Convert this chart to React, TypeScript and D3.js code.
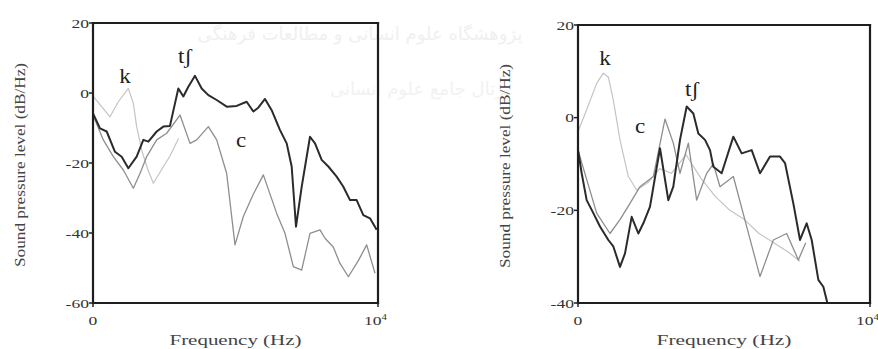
import React from "react";
import * as d3 from "d3";

// ---------- data (frequency in Hz, level in dB/Hz) ----------
const leftTshFreq = [0, 246, 480, 772, 1006, 1240, 1532, 1766, 1942, 2234, 2468, 2700, 2994, 3170, 3345, 3579, 3813, 4047, 4340, 4691, 5041, 5392, 5626, 5800, 6035, 6269, 6562, 6796, 6971, 7123, 7322, 7614, 7790, 8024, 8257, 8550, 8784, 9018, 9250, 9485, 9719, 9953];
const leftTshDb = [-5.8, -10.1, -11, -16.8, -18.2, -21.5, -18.2, -13.4, -13.9, -11, -9.6, -9.4, 1.3, -1, 1.8, 4.9, 1.3, -0.6, -2, -3.9, -3.7, -2.5, -5.3, -4.2, -1.7, -4.9, -10.6, -14.4, -21, -38.2, -26.8, -12.5, -14.4, -19.1, -21, -23.9, -26.8, -30.6, -30.6, -34.9, -35.8, -39.1];

const leftCFreq = [0, 362, 713, 1064, 1415, 1649, 1883, 2234, 2585, 3053, 3404, 3637, 4047, 4340, 4691, 4982, 5275, 5620, 5977, 6445, 6737, 7029, 7322, 7614, 7965, 8140, 8430, 8667, 8960, 9310, 9603, 9895];
const leftCDb = [-6.3, -13.4, -18.2, -22, -27.2, -23, -18.2, -13.4, -11.5, -6.3, -14.4, -13.4, -9.6, -13.4, -23, -43.4, -35.3, -29, -23.4, -34.4, -40.1, -49.6, -50.6, -40.1, -39.1, -41.5, -44, -48.7, -52.5, -47.9, -43.4, -51.5];

const leftKFreq = [0, 304, 596, 889, 1240, 1415, 1532, 1708, 1930, 2117, 2400, 2700, 3000];
const leftKDb = [-0.9, -3.9, -6.8, -2.5, 1.3, -2.9, -9.6, -16.3, -22, -25.8, -22, -18, -13];

const rightTshFreq = [10, 126, 297, 525, 753, 1039, 1210, 1438, 1610, 1838, 2066, 2237, 2466, 2808, 3093, 3264, 3493, 3722, 3950, 4121, 4350, 4521, 4635, 4920, 5320, 5605, 5948, 6233, 6576, 6918, 7090, 7374, 7603, 7831, 8003, 8231, 8402, 8540];
const rightTshDb = [-7.3, -12, -17.8, -20.6, -23.5, -26.4, -27.8, -32.2, -29.3, -21.4, -25, -22.8, -19.2, -6.6, -17.8, -14.9, -4.8, 2.4, 0.9, -3.4, -4.8, -7, -10.6, -12, -4.1, -7.7, -7, -12, -8.4, -8.4, -9.8, -18.5, -26.4, -22.8, -26.4, -35, -36.5, -40];

const rightCFreq = [0, 639, 1096, 1438, 1781, 2123, 2580, 2979, 3264, 3493, 3779, 4064, 4407, 4635, 4863, 5320, 5777, 6233, 6690, 7146, 7546, 7800];
const rightCDb = [-7, -20.6, -25, -22, -18.5, -14.9, -12.7, -0.3, -5.5, -12, -5.5, -17.8, -12, -10, -14.9, -12.7, -23.5, -34.3, -26.4, -25, -30.7, -27];

const rightKFreq = [0, 297, 639, 867, 1039, 1210, 1438, 1724, 2009, 2400, 2800, 3200, 3700, 4200, 4700, 5200, 5700, 6200, 6700, 7200, 7600];
const rightKDb = [-3, 1.7, 7.4, 9.6, 8.8, 3.8, -4.8, -12.7, -15.6, -14, -11, -12, -8, -13, -17, -20, -22, -25, -27, -29, -31];

const leftYTicks = [20, 0, -20, -40, -60];
const rightYTicks = [20, 0, -20, -40];
const yTitle = "Sound pressure level (dB/Hz)";
const xTitle = "Frequency (Hz)";

type Series = { freq: number[]; db: number[]; color: string; width: number };
type Label = { text: string; x: number; y: number };

const SX = 1.35; // horizontal stretch of the reference's lettering

function Panel(props: {
  x0: number; x1: number; y0: number; y1: number;
  yMax: number; yMin: number; yTicks: number[];
  series: Series[]; labels: Label[]; yTitleX: number; xTitleW: number;
}) {
  const { x0, x1, y0, y1, yMax, yMin, yTicks, series, labels, yTitleX, xTitleW } = props;
  const xs = d3.scaleLinear().domain([0, 10000]).range([x0, x1]);
  const ys = d3.scaleLinear().domain([yMin, yMax]).range([y1, y0]);
  const serif = "'Liberation Serif', 'DejaVu Serif', serif";
  const edges: [number, number, number, number][] = [
    [xs(0), ys(yMax), xs(10000), ys(yMax)],
    [xs(10000), ys(yMax), xs(10000), ys(yMin)],
    [xs(10000), ys(yMin), xs(0), ys(yMin)],
    [xs(0), ys(yMin), xs(0), ys(yMax)],
  ];
  return (
    <g>
      {series.map((s, i) => {
        const pts = s.freq.map((f, j) => [f, s.db[j]] as [number, number]);
        const line = d3.line<[number, number]>().x(d => xs(d[0])).y(d => ys(d[1]));
        return <path key={i} d={line(pts) || ""} fill="none" stroke={s.color} strokeWidth={s.width} strokeLinejoin="round" />;
      })}
      {edges.map((e, i) => (
        <line key={"e" + i} x1={e[0]} y1={e[1]} x2={e[2]} y2={e[3]} stroke="#1e1e1e" strokeWidth={2.2} strokeLinecap="square" />
      ))}
      {yTicks.map(t => (
        <g key={t}>
          <line x1={x0 - 4} x2={x0} y1={ys(t)} y2={ys(t)} stroke="#222" strokeWidth={1.5} />
          <text transform={`translate(${x0 - 4},${ys(t)}) scale(${SX},1)`} dy="0.35em" textAnchor="end" fontFamily={serif} fontSize={13} fill="#333">{t}</text>
        </g>
      ))}
      {[0, 10000].map(t => (
        <line key={t} x1={xs(t)} x2={xs(t)} y1={y1} y2={y1 + 4} stroke="#222" strokeWidth={1.5} />
      ))}
      <text transform={`translate(${xs(0)},325) scale(${SX},1)`} textAnchor="middle" fontFamily={serif} fontSize={13} fill="#333">0</text>
      <text transform={`translate(${xs(10000) - 14},325) scale(${SX},1)`} fontFamily={serif} fontSize={13} fill="#333">10<tspan dy={-5} fontSize={8}>4</tspan></text>
      <text x={(x0 + x1) / 2} y={345} textAnchor="middle" fontFamily={serif} fontSize={14} fill="#444" textLength={xTitleW} lengthAdjust="spacingAndGlyphs">{xTitle}</text>
      <text transform={`translate(${yTitleX},${(y0 + y1) / 2 + 2}) rotate(-90)`} textAnchor="middle" dy="0.35em" fontFamily={serif} fontSize={14} fill="#444" textLength={204} lengthAdjust="spacingAndGlyphs">{yTitle}</text>
      {labels.map((l, i) => (
        <text key={i} transform={`translate(${l.x},${l.y}) scale(1.15,1)`} textAnchor="middle" fontFamily={serif} fontSize={20} fill="#222">{l.text}</text>
      ))}
    </g>
  );
}

export default function App() {
  const dark = "#2b2b2b", mid = "#8e8e8e", light = "#c4c4c4";
  return (
    <svg width={878} height={349} style={{ position: "absolute", left: 0, top: 0, background: "#fff" }}>
      <rect width={878} height={349} fill="#fff" />
      <text x={360} y={40} textAnchor="middle" fontFamily="'DejaVu Sans', sans-serif" fontSize={18} fill="#f0f0f0">پژوهشگاه علوم انسانی و مطالعات فرهنگی</text>
      <text x={420} y={95} textAnchor="middle" fontFamily="'DejaVu Sans', sans-serif" fontSize={18} fill="#f2f2f2">پرتال جامع علوم انسانی</text>
      <Panel x0={93} x1={378} y0={23} y1={303} yMax={20} yMin={-60} yTicks={leftYTicks}
        yTitleX={20} xTitleW={132}
        series={[
          { freq: leftKFreq, db: leftKDb, color: light, width: 1.2 },
          { freq: leftCFreq, db: leftCDb, color: mid, width: 1.3 },
          { freq: leftTshFreq, db: leftTshDb, color: dark, width: 2 },
        ]}
        labels={[{ text: "k", x: 125, y: 83 }, { text: "tʃ", x: 185, y: 63 }, { text: "c", x: 241, y: 147 }]} />
      <Panel x0={578} x1={870} y0={25} y1={303} yMax={20} yMin={-40} yTicks={rightYTicks}
        yTitleX={505} xTitleW={135}
        series={[
          { freq: rightKFreq, db: rightKDb, color: light, width: 1.2 },
          { freq: rightCFreq, db: rightCDb, color: mid, width: 1.3 },
          { freq: rightTshFreq, db: rightTshDb, color: dark, width: 2 },
        ]}
        labels={[{ text: "k", x: 605, y: 65 }, { text: "tʃ", x: 692, y: 96 }, { text: "c", x: 640, y: 133 }]} />
    </svg>
  );
}
